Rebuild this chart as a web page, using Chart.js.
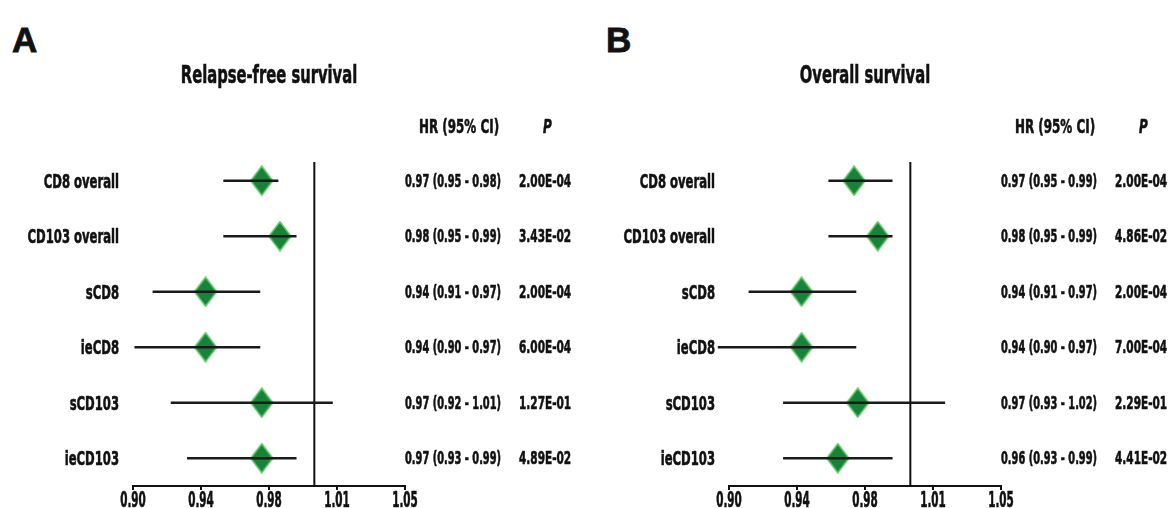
<!DOCTYPE html>
<html>
<head>
<meta charset="utf-8">
<script src="https://cdn.jsdelivr.net/npm/chart.js@4.4.1/dist/chart.umd.min.js"></script>
<style>
    body {
        margin: 0;
        background: #ffffff;
        width: 1171px;
        height: 508px;
        overflow: hidden;
        position: relative;
    }

    .painel {
        position: absolute;
        top: 0;
    }

    .letra {
        position: absolute;
        top: 22px;
        font: bold 35px "Liberation Sans", Arial, sans-serif;
        line-height: 35px;
        color: #111;
        -webkit-text-stroke: 0.8px #111;
    }
</style>
</head>
<body>
<div class="letra" style="left: 12px">A</div>
<div class="letra" style="left: 606px">B</div>
<canvas id="grafico_rfs" class="painel" style="left: 0" width="596" height="508"></canvas>
<canvas id="grafico_os" class="painel" style="left: 596px" width="575" height="508"></canvas>

<script>
const categorias = ["CD8 overall", "CD103 overall", "sCD8", "ieCD8", "sCD103", "ieCD103"];
const rotulosEixo = ["0.90", "0.94", "0.98", "1.01", "1.05"];
const valorReferencia = 1.0;

// Relapse-free survival
const hrRfs = [0.971, 0.981, 0.940, 0.940, 0.971, 0.971];
const icInfRfs = [0.950, 0.950, 0.911, 0.901, 0.921, 0.930];
const icSupRfs = [0.980, 0.990, 0.970, 0.970, 1.010, 0.990];
const textoHrRfs = ["0.97 (0.95 - 0.98)", "0.98 (0.95 - 0.99)", "0.94 (0.91 - 0.97)", "0.94 (0.90 - 0.97)", "0.97 (0.92 - 1.01)", "0.97 (0.93 - 0.99)"];
const pRfs = ["2.00E-04", "3.43E-02", "2.00E-04", "6.00E-04", "1.27E-01", "4.89E-02"];

// Overall survival
const hrOs = [0.969, 0.982, 0.940, 0.940, 0.971, 0.960];
const icInfOs = [0.955, 0.955, 0.911, 0.894, 0.930, 0.930];
const icSupOs = [0.990, 0.990, 0.970, 0.970, 1.019, 0.990];
const textoHrOs = ["0.97 (0.95 - 0.99)", "0.98 (0.95 - 0.99)", "0.94 (0.91 - 0.97)", "0.94 (0.90 - 0.97)", "0.97 (0.93 - 1.02)", "0.96 (0.93 - 0.99)"];
const pOs = ["2.00E-04", "4.86E-02", "2.00E-04", "7.00E-04", "2.29E-01", "4.41E-02"];

// fonte condensada; sem Arial Narrow instalada, o texto e comprimido na horizontal
const fonteNarrow = "'Liberation Sans Narrow', 'DejaVu Sans Condensed', Arial, sans-serif";
const corTexto = "#111111";
const compressao = 0.78;

function criarLosango(largura, altura) {
    let c = document.createElement("canvas");
    c.width = largura;
    c.height = altura;
    let g = c.getContext("2d");
    g.beginPath();
    g.moveTo(largura / 2, 1);
    g.lineTo(largura - 1, altura / 2);
    g.lineTo(largura / 2, altura - 1);
    g.lineTo(1, altura / 2);
    g.closePath();
    g.fillStyle = "#17833a";
    g.fill();
    g.strokeStyle = "#62c466";
    g.lineWidth = 1.5;
    g.stroke();
    return c;
}

const losango = criarLosango(24, 31);

function escrever(ctx, texto, x, y, fonte, alinhamento, esticarX, esticarY) {
    ctx.save();
    ctx.font = fonte;
    ctx.fillStyle = corTexto;
    ctx.strokeStyle = corTexto;
    ctx.lineWidth = 0.5;
    ctx.textAlign = alinhamento;
    ctx.textBaseline = "alphabetic";
    ctx.translate(x, y);
    ctx.scale(esticarX, esticarY);
    ctx.fillText(texto, 0, 0);
    ctx.strokeText(texto, 0, 0);
    ctx.restore();
}

const pluginForest = {
    id: "forest",
    beforeDatasetsDraw(chart) {
        let ctx = chart.ctx;
        let area = chart.chartArea;
        let xRef = chart.scales.x.getPixelForValue(valorReferencia);

        ctx.save();
        ctx.strokeStyle = "#111111";
        ctx.lineWidth = 2;
        ctx.beginPath();
        ctx.moveTo(xRef, area.top + 9);
        ctx.lineTo(xRef, area.bottom);
        ctx.stroke();
        ctx.restore();
    },
    afterDraw(chart, args, opcoes) {
        let ctx = chart.ctx;
        let area = chart.chartArea;
        let escalaX = chart.scales.x;
        let escalaY = chart.scales.y;
        let centro = (area.left + area.right) / 2;

        escrever(ctx, opcoes.titulo, centro, 83, "bold 21px " + fonteNarrow, "center", compressao, 1.2);
        escrever(ctx, "HR (95% CI)", area.right + 14, 133, "bold 17px " + fonteNarrow, "left", compressao, 1.12);
        escrever(ctx, "P", area.right + 138, 133, "italic bold 17px " + fonteNarrow, "left", compressao, 1.12);

        // rotulos das categorias (eixo y)
        let nomes = escalaY.getLabels();
        for (let i = 0; i < nomes.length; i++) {
            let y = escalaY.getPixelForTick(i) + 7;
            escrever(ctx, nomes[i], area.left - 14, y, "bold 17px " + fonteNarrow, "right", 0.76, 1.18);
        }

        // rotulos do eixo x
        for (let i = 0; i < escalaX.ticks.length; i++) {
            let rotulo = escalaX.ticks[i].label;
            escrever(ctx, rotulo, escalaX.getPixelForTick(i), area.bottom + 21, "bold 17px " + fonteNarrow, "center", 0.68, 1.22);
        }

        // colunas HR (IC 95%) e P
        for (let i = 0; i < categorias.length; i++) {
            let y = escalaY.getPixelForValue(i) + 6;
            escrever(ctx, opcoes.textoHr[i], area.right, y, "bold 14px " + fonteNarrow, "left", compressao, 1.22);
            escrever(ctx, opcoes.valoresP[i], area.right + 114, y, "bold 15px " + fonteNarrow, "left", compressao, 1.15);
        }
    }
};

function criarPainel(idCanvas, titulo, hr, icInf, icSup, textoHr, valoresP) {
    let ctx = document.getElementById(idCanvas);
    let larguraCanvas = ctx.width;

    let intervalos = [];
    let pontos = [];
    for (let i = 0; i < categorias.length; i++) {
        intervalos.push([icInf[i], icSup[i]]);
        pontos.push({ x: hr[i], y: categorias[i] });
    }

    return new Chart(ctx, {
        type: "bar",
        data: {
            labels: categorias,
            datasets: [
                {
                    type: "bar",
                    label: "IC 95%",
                    data: intervalos,
                    backgroundColor: "#1a1a1a",
                    borderWidth: 0,
                    barThickness: 2,
                    clip: false,
                    order: 0
                },
                {
                    type: "scatter",
                    label: "HR",
                    data: pontos,
                    pointStyle: losango,
                    pointRadius: 12,
                    order: 1
                }
            ]
        },
        options: {
            indexAxis: "y",
            responsive: false,
            animation: false,
            events: [],
            layout: {
                padding: { top: 153, right: larguraCanvas - 405, bottom: 0, left: 0 }
            },
            plugins: {
                legend: { display: false },
                tooltip: { enabled: false },
                forest: {
                    titulo: titulo,
                    textoHr: textoHr,
                    valoresP: valoresP
                }
            },
            scales: {
                x: {
                    type: "linear",
                    min: 0.9,
                    max: 1.05,
                    afterFit: function (escala) {
                        escala.height = 22;
                    },
                    border: { display: true, color: "#111111", width: 2 },
                    grid: {
                        display: true,
                        drawOnChartArea: false,
                        drawTicks: true,
                        tickLength: 4,
                        color: "#111111",
                        lineWidth: 2
                    },
                    ticks: {
                        display: false,
                        stepSize: 0.0375,
                        autoSkip: false,
                        maxRotation: 0,
                        callback: function (valor, indice) {
                            return rotulosEixo[indice];
                        }
                    }
                },
                y: {
                    type: "category",
                    afterFit: function (escala) {
                        escala.width = 133;
                    },
                    border: { display: false },
                    grid: { display: false },
                    ticks: { display: false }
                }
            }
        },
        plugins: [pluginForest]
    });
}

criarPainel("grafico_rfs", "Relapse-free survival", hrRfs, icInfRfs, icSupRfs, textoHrRfs, pRfs);
criarPainel("grafico_os", "Overall survival", hrOs, icInfOs, icSupOs, textoHrOs, pOs);
</script>
</body>
</html>
